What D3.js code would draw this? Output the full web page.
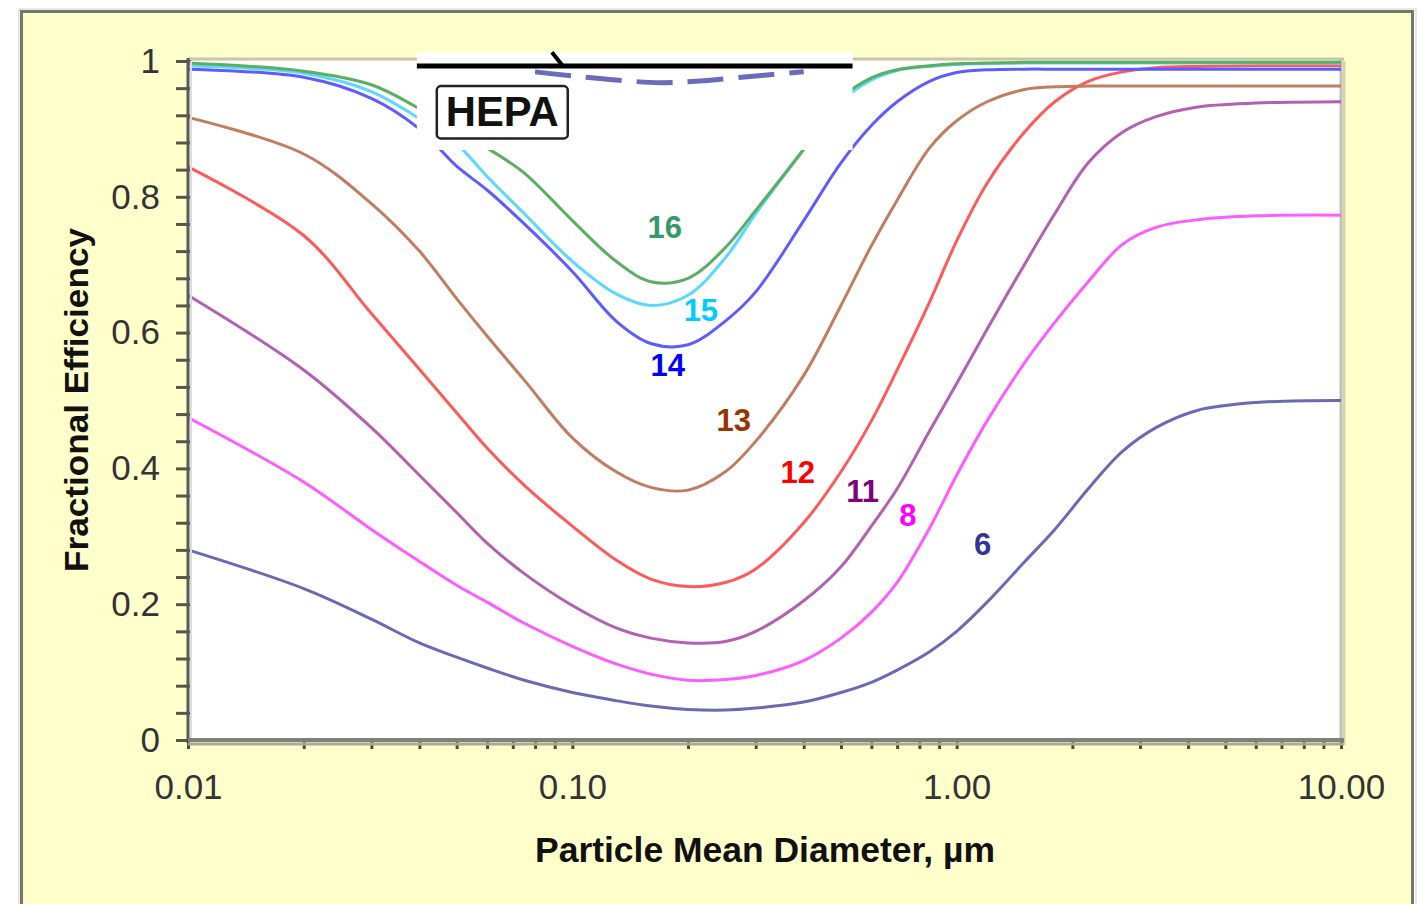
<!DOCTYPE html>
<html>
<head>
<meta charset="utf-8">
<script src="https://cdn.jsdelivr.net/npm/d3@7"></script>
<style>
  html, body { margin: 0; padding: 0; background: #fff; }
  svg { display: block; font-family: "Liberation Sans", Arial, sans-serif; }
</style>
</head>
<body>
<svg id="chart" width="1417" height="904"></svg>
<script>
// particle mean diameter grid (µm) shared by all curves
const diameters = [0.01, 0.02, 0.03, 0.04, 0.05, 0.06, 0.075, 0.1, 0.13, 0.16, 0.2, 0.25, 0.3, 0.4,
  0.5, 0.6, 0.7, 0.85, 1.0, 1.2, 1.5, 1.8, 2.2, 2.7, 3.3, 4.2, 6, 10];

// fractional efficiency per MERV rating
const merv6 = [0.28, 0.223, 0.178, 0.143, 0.122, 0.106, 0.088, 0.07, 0.058, 0.05, 0.045, 0.044, 0.047, 0.056,
  0.07, 0.085, 0.103, 0.13, 0.16, 0.203, 0.262, 0.31, 0.37, 0.425, 0.46, 0.485, 0.497, 0.5];
const merv8 = [0.475, 0.38, 0.31, 0.263, 0.228, 0.203, 0.172, 0.138, 0.112, 0.097, 0.088, 0.089, 0.095, 0.117,
  0.15, 0.188, 0.232, 0.312, 0.39, 0.47, 0.555, 0.615, 0.675, 0.73, 0.755, 0.766, 0.772, 0.773];
const merv11 = [0.655, 0.545, 0.46, 0.39, 0.335, 0.29, 0.245, 0.198, 0.165, 0.15, 0.143, 0.145, 0.16, 0.205,
  0.255, 0.315, 0.37, 0.455, 0.525, 0.605, 0.7, 0.775, 0.85, 0.895, 0.918, 0.932, 0.938, 0.94];
const merv12 = [0.844, 0.743, 0.628, 0.546, 0.482, 0.43, 0.375, 0.315, 0.265, 0.237, 0.226, 0.232, 0.252, 0.32,
  0.395, 0.47, 0.545, 0.645, 0.735, 0.82, 0.895, 0.94, 0.97, 0.984, 0.99, 0.992, 0.993, 0.993];
const merv13 = [0.917, 0.863, 0.79, 0.72, 0.65, 0.595, 0.53, 0.445, 0.395, 0.372, 0.368, 0.395, 0.44, 0.537,
  0.64, 0.728, 0.795, 0.872, 0.912, 0.94, 0.958, 0.962, 0.963, 0.963, 0.963, 0.963, 0.963, 0.963];
const merv14 = [0.988, 0.976, 0.945, 0.9, 0.845, 0.81, 0.76, 0.69, 0.617, 0.584, 0.582, 0.617, 0.66, 0.765,
  0.85, 0.905, 0.94, 0.97, 0.983, 0.987, 0.988, 0.988, 0.988, 0.988, 0.988, 0.988, 0.988, 0.988];
const merv15 = [0.993, 0.982, 0.955, 0.915, 0.878, 0.83, 0.775, 0.705, 0.657, 0.64, 0.655, 0.71, 0.775, 0.87,
  0.94, 0.972, 0.986, 0.992, 0.995, 0.996, 0.997, 0.997, 0.997, 0.997, 0.997, 0.997, 0.997, 0.997];
const merv16 = [0.997, 0.985, 0.965, 0.93, 0.9, 0.872, 0.835, 0.765, 0.705, 0.675, 0.68, 0.725, 0.78, 0.87,
  0.945, 0.975, 0.987, 0.993, 0.996, 0.997, 0.998, 0.998, 0.998, 0.998, 0.998, 0.998, 0.998, 0.998];

const seriesNames = ["6", "8", "11", "12", "13", "14", "15", "16"];
const seriesValues = [merv6, merv8, merv11, merv12, merv13, merv14, merv15, merv16];

// where each rating number sits (diameter, efficiency)
const labelDiam = [1.168, 0.746, 0.569, 0.386, 0.263, 0.177, 0.216, 0.174];
const labelEff = [0.289, 0.332, 0.367, 0.395, 0.472, 0.553, 0.634, 0.755];

// HEPA reference curve (dashed)
const hepaDiam = [0.08, 0.1, 0.13, 0.17, 0.22, 0.3, 0.4];
const hepaEff = [0.984, 0.978, 0.972, 0.968, 0.971, 0.978, 0.984];

// axis ticks
const xTickValues = [0.01, 0.1, 1, 10];
const xTickLabels = ["0.01", "0.10", "1.00", "10.00"];
const yTickValues = [0, 0.2, 0.4, 0.6, 0.8, 1];
const yTickLabels = ["0", "0.2", "0.4", "0.6", "0.8", "1"];

const lineColors = ["#6a6ab4", "#ff5cff", "#b35fb3", "#ff5a5a", "#c17d5f", "#5c5cff", "#5ad8ff", "#5aaf62"];
const labelColors = ["#333399", "#ff00ff", "#800080", "#ff0000", "#993300", "#0000ff", "#00ccff", "#339966"];

const svg = d3.select("#chart");
const plotL = 188, plotR = 1341, plotT = 61, plotB = 740;

const x = d3.scaleLog().domain([0.01, 10]).range([plotL, plotR]);
const y = d3.scaleLinear().domain([0, 1]).range([plotB, plotT]);

// yellow panel
svg.append("rect")
  .attr("x", 19).attr("y", 9).attr("width", 1397).attr("height", 920)
  .attr("fill", "none").attr("stroke", "#cfcfd6").attr("stroke-width", 1);
svg.append("rect")
  .attr("x", 21.5).attr("y", 11.5).attr("width", 1391).attr("height", 920)
  .attr("fill", "#ffffcc").attr("stroke", "#777766").attr("stroke-width", 3);

// plot area
svg.append("rect")
  .attr("x", plotL).attr("y", plotT)
  .attr("width", plotR - plotL).attr("height", plotB - plotT)
  .attr("fill", "#fff");

// frame: top and right edges
svg.append("line").attr("x1", plotL).attr("x2", plotR + 3).attr("y1", plotT - 2).attr("y2", plotT - 2)
  .attr("stroke", "#c6c6ae").attr("stroke-width", 3);
svg.append("line").attr("x1", plotR).attr("x2", plotR).attr("y1", plotT - 3).attr("y2", plotB)
  .attr("stroke", "#c0c0c0").attr("stroke-width", 3);
svg.append("line").attr("x1", plotR + 3).attr("x2", plotR + 3).attr("y1", plotT).attr("y2", plotB + 5)
  .attr("stroke", "#d4d4a8").attr("stroke-width", 3);

// curves
const line = d3.line()
  .x(d => x(d[0]))
  .y(d => y(d[1]))
  .curve(d3.curveCatmullRom.alpha(0.5));

seriesValues.forEach((vals, i) => {
  svg.append("path")
    .datum(diameters.map((d, j) => [d, vals[j]]))
    .attr("d", line)
    .attr("fill", "none")
    .attr("stroke", lineColors[i])
    .attr("stroke-width", 3);
});

// curve labels
svg.selectAll("text.merv")
  .data(seriesNames)
  .join("text")
  .attr("class", "merv")
  .attr("x", (d, i) => x(labelDiam[i]))
  .attr("y", (d, i) => y(labelEff[i]) + 11)
  .attr("text-anchor", "middle")
  .attr("font-size", 31)
  .attr("font-weight", "bold")
  .attr("fill", (d, i) => labelColors[i])
  .text(d => d);

// HEPA inset (pasted white patch over the top of the chart)
const insetL = x(0.0394), insetR = x(0.536);
svg.append("rect")
  .attr("x", insetL).attr("y", 52)
  .attr("width", insetR - insetL).attr("height", 98)
  .attr("fill", "#fff");
svg.append("line")
  .attr("x1", insetL).attr("x2", insetR)
  .attr("y1", y(0.9926)).attr("y2", y(0.9926))
  .attr("stroke", "#000").attr("stroke-width", 5);
svg.append("path")
  .attr("d", `M${x(0.0917) - 6},${y(1.013)} L${x(0.0917) + 5},${y(0.9926)}`)
  .attr("stroke", "#000").attr("stroke-width", 4).attr("fill", "none");
svg.append("path")
  .datum(hepaDiam.map((d, j) => [d, hepaEff[j]]))
  .attr("d", line)
  .attr("fill", "none")
  .attr("stroke", "#6b6bbd")
  .attr("stroke-width", 5)
  .attr("stroke-dasharray", "36 15");
svg.append("rect")
  .attr("x", x(0.0444)).attr("y", y(0.963))
  .attr("width", x(0.0973) - x(0.0444)).attr("height", y(0.886) - y(0.963))
  .attr("rx", 4)
  .attr("fill", "#fff").attr("stroke", "#222").attr("stroke-width", 2.5);
svg.append("text")
  .attr("x", (x(0.0444) + x(0.0973)) / 2)
  .attr("y", y(0.886) - 12)
  .attr("text-anchor", "middle")
  .attr("font-size", 43)
  .attr("font-weight", "bold")
  .attr("textLength", 113)
  .attr("lengthAdjust", "spacingAndGlyphs")
  .attr("fill", "#111")
  .text("HEPA");

// y axis
const yMinor = d3.range(0, 26).map(k => k * 0.04);
const gy = svg.append("g")
  .attr("transform", `translate(${plotL},0)`)
  .call(d3.axisLeft(y).tickValues(yMinor).tickSize(12).tickFormat(""));
gy.select(".domain").remove();
gy.selectAll(".tick line").attr("x1", 3).attr("stroke", "#55554a").attr("stroke-width", 3);

const gyl = svg.append("g")
  .attr("transform", `translate(${plotL},0)`)
  .call(d3.axisLeft(y).tickValues(yTickValues).tickSize(0).tickPadding(28)
    .tickFormat((d, i) => yTickLabels[i]));
gyl.select(".domain").remove();
gyl.selectAll("text")
  .attr("font-size", 35)
  .attr("font-family", "'Liberation Sans', Arial, sans-serif")
  .attr("fill", "#333");

svg.append("line").attr("x1", plotL + 3).attr("x2", plotL + 3).attr("y1", plotT).attr("y2", plotB)
  .attr("stroke", "#dcdce4").attr("stroke-width", 2);
svg.append("line").attr("x1", plotL).attr("x2", plotL).attr("y1", plotT - 3).attr("y2", plotB + 3)
  .attr("stroke", "#5a5a4e").attr("stroke-width", 3);

// x axis
const xMinor = [];
[0.01, 0.1, 1].forEach(dec => d3.range(1, 10).forEach(k => xMinor.push(k * dec)));
xMinor.push(10);
const gx = svg.append("g")
  .attr("transform", `translate(0,${plotB})`)
  .call(d3.axisBottom(x).tickValues(xMinor).tickSize(9).tickFormat(""));
gx.select(".domain").remove();
gx.selectAll(".tick line").attr("stroke", "#4a4a40").attr("stroke-width", 3);

svg.append("line").attr("x1", plotL).attr("x2", plotR + 3).attr("y1", plotB + 4).attr("y2", plotB + 4)
  .attr("stroke", "#aaaa8c").attr("stroke-width", 3);
svg.append("line").attr("x1", plotL).attr("x2", plotR + 3).attr("y1", plotB).attr("y2", plotB)
  .attr("stroke", "#808080").attr("stroke-width", 4);

const gxl = svg.append("g")
  .attr("transform", `translate(0,${plotB})`)
  .call(d3.axisBottom(x).tickValues(xTickValues).tickSize(0).tickPadding(34)
    .tickFormat((d, i) => xTickLabels[i]));
gxl.select(".domain").remove();
gxl.selectAll("text")
  .attr("font-size", 35)
  .attr("font-family", "'Liberation Sans', Arial, sans-serif")
  .attr("fill", "#333");

// axis titles
svg.append("text")
  .attr("x", 765).attr("y", 862)
  .attr("text-anchor", "middle")
  .attr("font-size", 35)
  .attr("font-weight", "bold")
  .attr("textLength", 460)
  .attr("lengthAdjust", "spacingAndGlyphs")
  .attr("fill", "#111")
  .text("Particle Mean Diameter, µm");

svg.append("text")
  .attr("transform", "translate(88,400) rotate(-90)")
  .attr("text-anchor", "middle")
  .attr("font-size", 34)
  .attr("font-weight", "bold")
  .attr("textLength", 344)
  .attr("lengthAdjust", "spacingAndGlyphs")
  .attr("fill", "#111")
  .text("Fractional Efficiency");
</script>
</body>
</html>
